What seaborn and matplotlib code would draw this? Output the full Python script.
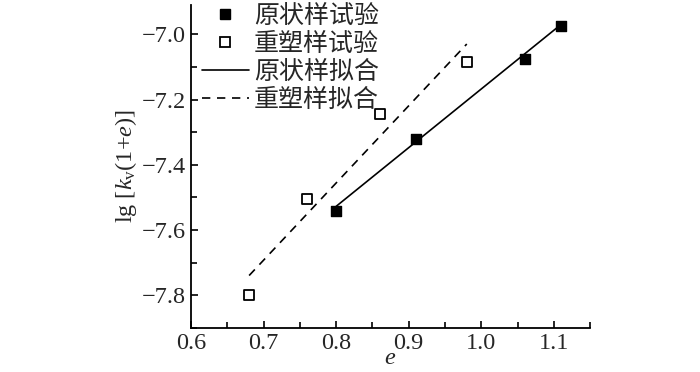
import matplotlib
matplotlib.use("Agg")
import matplotlib.pyplot as plt
import seaborn as sns
import pandas as pd
from matplotlib.ticker import MultipleLocator
from matplotlib.lines import Line2D

# data
e_undist = [0.80, 0.91, 1.06, 1.11]
k_undist = [-7.54, -7.32, -7.075, -6.975]
e_remold = [0.68, 0.76, 0.86, 0.98]
k_remold = [-7.80, -7.505, -7.245, -7.085]
fit_undist_e = [0.80, 1.11]
fit_undist_k = [-7.527, -6.970]
fit_remold_e = [0.68, 0.98]
fit_remold_k = [-7.739, -7.030]
labels = ["原状样试验", "重塑样试验", "原状样拟合", "重塑样拟合"]

sns.set_theme(style="ticks")
plt.rcParams['font.family'] = ['Liberation Serif', 'Noto Sans CJK SC']
plt.rcParams['mathtext.fontset'] = 'custom'
plt.rcParams['mathtext.rm'] = 'Liberation Serif'
plt.rcParams['mathtext.it'] = 'Liberation Serif:italic'
plt.rcParams['axes.unicode_minus'] = True

fig = plt.figure(figsize=(7, 3.72), dpi=100)
ax = fig.add_axes([0.273, 0.118, 0.570, 0.869])

df_u = pd.DataFrame({"e": e_undist, "k": k_undist})
df_r = pd.DataFrame({"e": e_remold, "k": k_remold})
df_fu = pd.DataFrame({"e": fit_undist_e, "k": fit_undist_k})
df_fr = pd.DataFrame({"e": fit_remold_e, "k": fit_remold_k})

sns.lineplot(data=df_fu, x="e", y="k", ax=ax, color="black", lw=1.2, sort=False)
sns.lineplot(data=df_fr, x="e", y="k", ax=ax, color="black", lw=1.2, sort=False,
             linestyle=(0, (5, 4)))
sns.scatterplot(data=df_u, x="e", y="k", ax=ax, marker="s", s=50, color="black",
                edgecolor="black", linewidth=1.0, zorder=5)
sns.scatterplot(data=df_r, x="e", y="k", ax=ax, marker="s", s=45, color="white",
                edgecolor="black", linewidth=1.3, zorder=5)

ax.set_xlim(0.6, 1.15)
ax.set_ylim(-7.9, -6.91)
ax.xaxis.set_major_locator(MultipleLocator(0.1))
ax.xaxis.set_minor_locator(MultipleLocator(0.05))
ax.yaxis.set_major_locator(MultipleLocator(0.2))
ax.yaxis.set_minor_locator(MultipleLocator(0.1))
ax.tick_params(which="both", direction="in", labelsize=17.5, width=1.2, color="black")
ax.tick_params(which="major", length=5)
ax.tick_params(which="minor", length=4)
for s in ["top", "right"]:
    ax.spines[s].set_visible(False)
for s in ["left", "bottom"]:
    ax.spines[s].set_linewidth(1.3)
    ax.spines[s].set_color("black")

ax.set_xlabel(r"$\mathit{e}$", fontsize=17.5, labelpad=-4)
ax.set_ylabel(r"lg [$\mathit{k}_\mathrm{v}$(1+$\mathit{e}$)]", fontsize=17.5, labelpad=2)

handles = [
    Line2D([], [], marker="s", ls="none", mfc="black", mec="black", ms=7),
    Line2D([], [], marker="s", ls="none", mfc="white", mec="black", mew=1.3, ms=6.5),
    Line2D([], [], color="black", lw=1.2),
    Line2D([], [], color="black", lw=1.2, ls=(0, (5, 4))),
]
leg = ax.legend(handles, labels, loc="upper left", bbox_to_anchor=(-0.005, 1.04),
                frameon=False, fontsize=18, handlelength=1.9, handletextpad=0.2,
                labelspacing=0.2, borderaxespad=0.1)

fig.savefig("out.png", dpi=100)
